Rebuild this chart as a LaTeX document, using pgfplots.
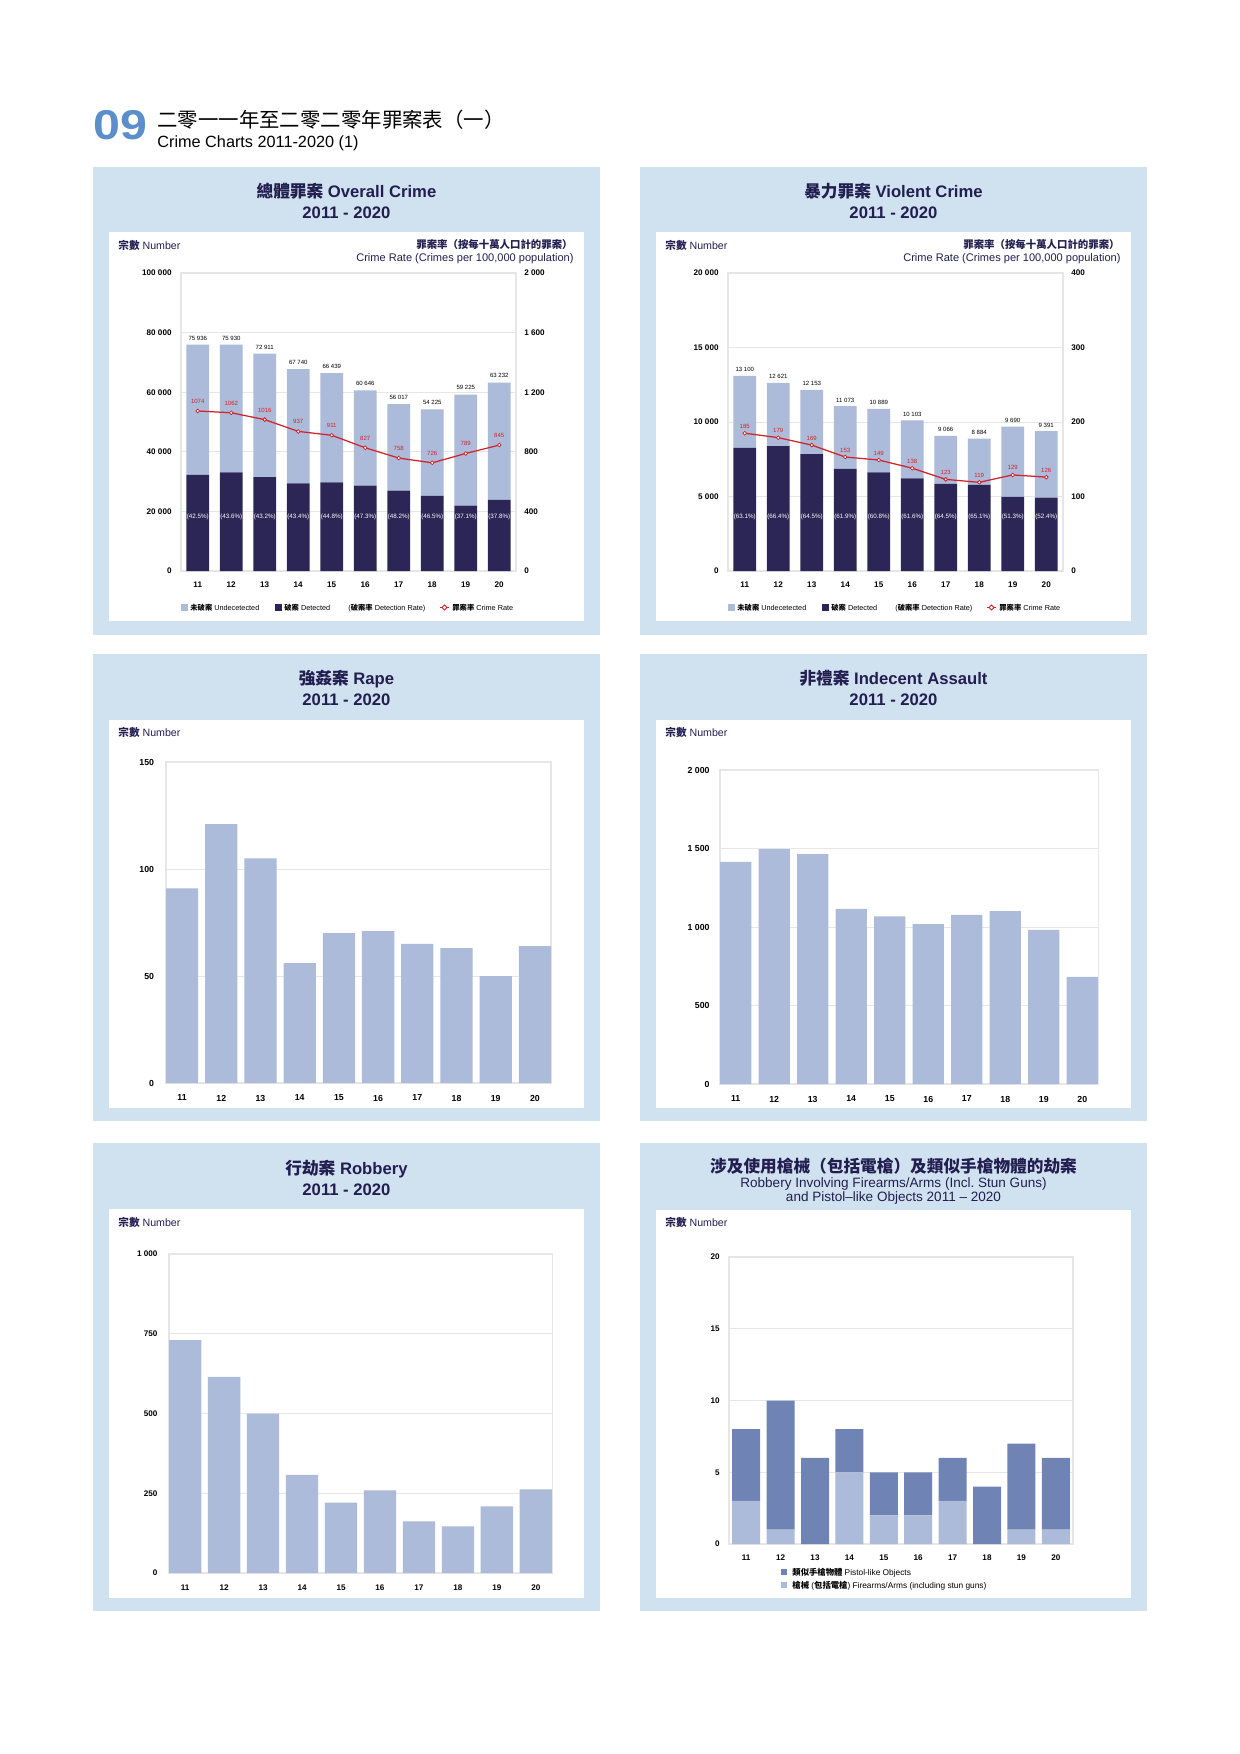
\documentclass[border=0pt]{standalone}
\usepackage{fontspec}
\setmainfont{Liberation Sans}
\newfontfamily\cjk{Noto Sans CJK TC}
\usepackage{graphicx}
\usepackage{pgfplots}
\pgfplotsset{compat=1.18}
\newcommand\fs[1]{\fontsize{#1}{#1}\selectfont}
\definecolor{panelbg}{HTML}{D0E1F0}
\definecolor{navy}{HTML}{221E50}
\definecolor{barlight}{HTML}{ABBBD9}
\definecolor{bardark}{HTML}{2C2657}
\definecolor{barmid}{HTML}{6F83B5}
\definecolor{ratered}{HTML}{D2232A}
\definecolor{headblue}{HTML}{5A8FCC}
\definecolor{gridc}{HTML}{E6E6E6}
\pgfplotsset{
  base/.style={scale only axis, anchor=south west,
    axis line style={draw=gridc, line width=0.5pt},
    ymajorgrids, major grid style={draw=gridc, line width=0.4pt},
    tick style={draw=none}, major tick length=0pt,
    scaled y ticks=false, scaled x ticks=false,
    xtick={0,1,2,3,4,5,6,7,8,9},
    xticklabels={11,12,13,14,15,16,17,18,19,20},
    tick label style={font=\fs{3.9}\bfseries, text=black},
    xticklabel style={yshift=-1.6pt},
    yticklabel style={xshift=-1pt},
    ymin=0},
  ovl/.style={scale only axis, anchor=south west, ymin=0,
    scaled y ticks=false,
    axis x line=none, axis y line*=right, axis line style={draw=none},
    tick style={draw=none}, major tick length=0pt,
    yticklabel style={font=\fs{3.9}\bfseries, text=black, xshift=0.5pt}},
  lblax/.style={scale only axis, anchor=south west, ymin=0, hide axis},
  totlab/.style={draw=none, mark=none, nodes near coords, point meta=explicit symbolic,
    nodes near coords style={font=\fs{2.9}, text=black, anchor=center, inner sep=0pt, yshift=#1}},
  detlab/.style={draw=none, mark=none, nodes near coords, point meta=explicit symbolic,
    nodes near coords style={font=\fs{3}, text=white, anchor=center, inner sep=0pt}},
  rateline/.style={ratered, line width=0.6pt, mark=*, mark size=0.9pt,
    mark options={fill=white, draw=ratered, line width=0.35pt},
    nodes near coords, point meta=explicit symbolic,
    nodes near coords style={font=\fs{2.9}, text=ratered, anchor=center, inner sep=0pt, yshift=#1}},
}
\begin{document}
\begin{tikzpicture}[x=0.48pt, y=0.48pt]
\path[use as bounding box, fill=white] (0,0) rectangle (1240,-1754);

% header
\node[anchor=base west, inner sep=0pt, text=headblue, font=\fs{20}\bfseries] at (93,-139) {\scalebox{1.16}[1]{09}};
\node[anchor=base west, inner sep=0pt, font=\fs{9.8}] at (157,-127.5) {\cjk 二零一一年至二零二零年罪案表（一）};
\node[anchor=base west, inner sep=0pt, font=\fs{7.8}] at (157,-147.4) {Crime Charts 2011-2020 (1)};

% panel backgrounds
\fill[panelbg] (93,-167) rectangle (600,-635);
\fill[white] (109,-232) rectangle (584,-621);
\fill[panelbg] (640,-167) rectangle (1147,-635);
\fill[white] (656,-232) rectangle (1131,-621);
\fill[panelbg] (93,-654) rectangle (600,-1121);
\fill[white] (109,-720) rectangle (584,-1108);
\fill[panelbg] (640,-654) rectangle (1147,-1121);
\fill[white] (656,-720) rectangle (1131,-1108);
\fill[panelbg] (93,-1143) rectangle (600,-1611);
\fill[white] (109,-1209) rectangle (584,-1598);
\fill[panelbg] (640,-1143) rectangle (1147,-1611);
\fill[white] (656,-1210) rectangle (1131,-1598);

% ---------- titles ----------
\node[anchor=base, inner sep=0pt, text=navy, font=\fs{8}\bfseries] at (346.5,-197.3) {{\cjk 總體罪案} Overall Crime};
\node[anchor=base, inner sep=0pt, text=navy, font=\fs{8}\bfseries] at (346.5,-218) {2011 - 2020};
\node[anchor=base, inner sep=0pt, text=navy, font=\fs{8}\bfseries] at (893.5,-197.3) {{\cjk 暴力罪案} Violent Crime};
\node[anchor=base, inner sep=0pt, text=navy, font=\fs{8}\bfseries] at (893.5,-218) {2011 - 2020};
\node[anchor=base, inner sep=0pt, text=navy, font=\fs{8}\bfseries] at (346.5,-684.7) {{\cjk 強姦案} Rape};
\node[anchor=base, inner sep=0pt, text=navy, font=\fs{8}\bfseries] at (346.5,-705) {2011 - 2020};
\node[anchor=base, inner sep=0pt, text=navy, font=\fs{8}\bfseries] at (893.5,-684.7) {{\cjk 非禮案} Indecent Assault};
\node[anchor=base, inner sep=0pt, text=navy, font=\fs{8}\bfseries] at (893.5,-705) {2011 - 2020};
\node[anchor=base, inner sep=0pt, text=navy, font=\fs{8}\bfseries] at (346.5,-1174.5) {{\cjk 行劫案} Robbery};
\node[anchor=base, inner sep=0pt, text=navy, font=\fs{8}\bfseries] at (346.5,-1195) {2011 - 2020};
\node[anchor=base, inner sep=0pt, text=navy, font=\fs{8}\bfseries] at (893.5,-1172.5) {\cjk 涉及使用槍械（包括電槍）及類似手槍物體的劫案};
\node[anchor=base, inner sep=0pt, text=navy, font=\fs{6.5}] at (893.5,-1187) {Robbery Involving Firearms/Arms (Incl.\ Stun Guns)};
\node[anchor=base, inner sep=0pt, text=navy, font=\fs{6.5}] at (893.5,-1201) {and Pistol–like Objects 2011 – 2020};

% y titles
\foreach \xx/\yy in {118/249, 665/249, 118/736, 665/736, 118/1226, 665/1226}{
  \node[anchor=base west, inner sep=0pt, text=navy, font=\fs{5.1}] at (\xx,-\yy) {{\cjk\bfseries 宗數} Number};
}
\foreach \xx in {0,547}{
  \node[anchor=base east, inner sep=0pt, text=navy, font=\fs{5}\bfseries] at (573+\xx,-248) {\cjk 罪案率（按每十萬人口計的罪案）};
  \node[anchor=base east, inner sep=0pt, text=navy, font=\fs{5.3}] at (574+\xx,-261) {Crime Rate (Crimes per 100,000 population)};
  % legends
  \fill[barlight] (181+\xx,-604) rectangle (188+\xx,-611);
  \node[anchor=base west, inner sep=0pt, font=\fs{3.5}] at (190+\xx,-610) {{\cjk\bfseries 未破案} Undecetected};
  \fill[bardark] (275+\xx,-604) rectangle (282+\xx,-611);
  \node[anchor=base west, inner sep=0pt, font=\fs{3.5}] at (284+\xx,-610) {{\cjk\bfseries 破案} Detected};
  \node[anchor=base west, inner sep=0pt, font=\fs{3.5}] at (348+\xx,-610) {({\cjk\bfseries 破案率} Detection Rate)};
  \draw[ratered, line width=0.6pt] (440+\xx,-607.5) -- (449+\xx,-607.5);
  \draw[ratered, fill=white, line width=0.4pt] (444.5+\xx,-605) -- (447+\xx,-607.5) -- (444.5+\xx,-610) -- (442+\xx,-607.5) -- cycle;
  \node[anchor=base west, inner sep=0pt, font=\fs{3.5}] at (452+\xx,-610) {{\cjk\bfseries 罪案率} Crime Rate};
}
% legend panel 6
\fill[barmid] (781,-1569) rectangle (787,-1575);
\node[anchor=base west, inner sep=0pt, font=\fs{4}] at (792,-1575) {{\cjk\bfseries 類似手槍物體} Pistol-like Objects};
\fill[barlight] (781,-1582) rectangle (787,-1588);
\node[anchor=base west, inner sep=0pt, font=\fs{4}] at (792,-1588) {{\cjk\bfseries 槍械} ({\cjk\bfseries 包括電槍}) Firearms/Arms (including stun guns)};

% ---------- Panel 1: Overall crime ----------
\begin{axis}[base, at={(181*0.48pt,-571*0.48pt)}, width=160.8pt, height=143.04pt,
  xmin=-0.5, xmax=9.5, ymax=100000,
  ytick={0,20000,40000,60000,80000,100000},
  yticklabels={0,20 000,40 000,60 000,80 000,100 000},
  ybar stacked, bar width=10.9pt]
\addplot[fill=bardark, draw=none] coordinates {(0,32273) (1,33105) (2,31498) (3,29399) (4,29765) (5,28686) (6,27000) (7,25215) (8,21973) (9,23902)};
\addplot[fill=barlight, draw=none] coordinates {(0,43663) (1,42825) (2,41413) (3,38341) (4,36674) (5,31960) (6,29017) (7,29010) (8,37252) (9,39330)};
\end{axis}
\begin{axis}[lblax, at={(181*0.48pt,-571*0.48pt)}, width=160.8pt, height=143.04pt,
  xmin=-0.5, xmax=9.5, ymax=100000]
\addplot[totlab=3.2pt] coordinates {(0,75936)[75 936] (1,75930)[75 930] (2,72911)[72 911] (3,67740)[67 740] (4,66439)[66 439] (5,60646)[60 646] (6,56017)[56 017] (7,54225)[54 225] (8,59225)[59 225] (9,63232)[63 232]};
\end{axis}
\begin{axis}[ovl, at={(181*0.48pt,-571*0.48pt)}, width=160.8pt, height=143.04pt,
  xmin=-0.5, xmax=9.5, ymax=2000,
  ytick={0,400,800,1200,1600,2000},
  yticklabels={0,400,800,1 200,1 600,2 000}]
\addplot[detlab] coordinates {(0,364)[(42.5\%)] (1,364)[(43.6\%)] (2,364)[(43.2\%)] (3,364)[(43.4\%)] (4,364)[(44.8\%)] (5,364)[(47.3\%)] (6,364)[(48.2\%)] (7,364)[(46.5\%)] (8,364)[(37.1\%)] (9,364)[(37.8\%)]};
\addplot[rateline=4.6pt] coordinates {(0,1074)[1074] (1,1062)[1062] (2,1016)[1016] (3,937)[937] (4,911)[911] (5,827)[827] (6,758)[758] (7,726)[726] (8,789)[789] (9,845)[845]};
\end{axis}

% ---------- Panel 2: Violent crime ----------
\begin{axis}[base, at={(728*0.48pt,-571*0.48pt)}, width=160.8pt, height=143.04pt,
  xmin=-0.5, xmax=9.5, ymax=20000,
  ytick={0,5000,10000,15000,20000},
  yticklabels={0,5 000,10 000,15 000,20 000},
  ybar stacked, bar width=10.9pt]
\addplot[fill=bardark, draw=none] coordinates {(0,8266) (1,8380) (2,7839) (3,6854) (4,6621) (5,6223) (6,5848) (7,5783) (8,4971) (9,4921)};
\addplot[fill=barlight, draw=none] coordinates {(0,4834) (1,4241) (2,4314) (3,4219) (4,4268) (5,3880) (6,3218) (7,3101) (8,4719) (9,4470)};
\end{axis}
\begin{axis}[lblax, at={(728*0.48pt,-571*0.48pt)}, width=160.8pt, height=143.04pt,
  xmin=-0.5, xmax=9.5, ymax=20000]
\addplot[totlab=2.9pt] coordinates {(0,13100)[13 100] (1,12621)[12 621] (2,12153)[12 153] (3,11073)[11 073] (4,10889)[10 889] (5,10103)[10 103] (6,9066)[9 066] (7,8884)[8 884] (8,9690)[9 690] (9,9391)[9 391]};
\end{axis}
\begin{axis}[ovl, at={(728*0.48pt,-571*0.48pt)}, width=160.8pt, height=143.04pt,
  xmin=-0.5, xmax=9.5, ymax=400,
  ytick={0,100,200,300,400},
  yticklabels={0,100,200,300,400}]
\addplot[detlab] coordinates {(0,72.9)[(63.1\%)] (1,72.9)[(66.4\%)] (2,72.9)[(64.5\%)] (3,72.9)[(61.9\%)] (4,72.9)[(60.8\%)] (5,72.9)[(61.6\%)] (6,72.9)[(64.5\%)] (7,72.9)[(65.1\%)] (8,72.9)[(51.3\%)] (9,72.9)[(52.4\%)]};
\addplot[rateline=3.4pt] coordinates {(0,185)[185] (1,179)[179] (2,169)[169] (3,153)[153] (4,149)[149] (5,138)[138] (6,123)[123] (7,119)[119] (8,129)[129] (9,126)[126]};
\end{axis}

% ---------- Panel 3: Rape ----------
\begin{axis}[base, at={(166*0.48pt,-1083*0.48pt)}, width=184.8pt, height=154.08pt,
  xmin=-0.41, xmax=9.41, ymax=150,
  ytick={0,50,100,150}, yticklabels={0,50,100,150},
  tick label style={font=\fs{4.2}\bfseries},
  xticklabel style={yshift=-0.6pt}, yticklabel style={xshift=-1.2pt},
  ybar, bar width=15.5pt, bar shift=0pt]
\addplot[fill=barlight, draw=none] coordinates {(0,91) (1,121) (2,105) (3,56) (4,70) (5,71) (6,65) (7,63) (8,50) (9,64)};
\end{axis}

% ---------- Panel 4: Indecent assault ----------
\begin{axis}[base, at={(720*0.48pt,-1084*0.48pt)}, width=181.44pt, height=150.72pt,
  xmin=-0.408, xmax=9.408, ymax=2000,
  ytick={0,500,1000,1500,2000}, yticklabels={0,500,1 000,1 500,2 000},
  tick label style={font=\fs{4.2}\bfseries},
  xticklabel style={yshift=-0.6pt}, yticklabel style={xshift=-0.5pt},
  ybar, bar width=15.0pt, bar shift=0pt]
\addplot[fill=barlight, draw=none] coordinates {(0,1415) (1,1496) (2,1464) (3,1116) (4,1067) (5,1018) (6,1078) (7,1101) (8,982) (9,682)};
\end{axis}

% ---------- Panel 5: Robbery ----------
\begin{axis}[base, at={(169*0.48pt,-1573*0.48pt)}, width=183.84pt, height=153.12pt,
  xmin=-0.415, xmax=9.415, ymax=1000,
  ytick={0,250,500,750,1000}, yticklabels={0,250,500,750,1 000},
  tick label style={font=\fs{3.9}\bfseries},
  xticklabel style={yshift=-0.6pt}, yticklabel style={xshift=-1pt},
  ybar, bar width=15.5pt, bar shift=0pt]
\addplot[fill=barlight, draw=none] coordinates {(0,730) (1,615) (2,500) (3,308) (4,221) (5,259) (6,162) (7,146) (8,209) (9,262)};
\end{axis}

% ---------- Panel 6: Robbery with firearms ----------
\begin{axis}[base, at={(729*0.48pt,-1544*0.48pt)}, width=165.12pt, height=137.76pt,
  xmin=-0.5, xmax=9.5, ymax=20,
  ytick={0,5,10,15,20}, yticklabels={0,5,10,15,20},
  ybar stacked, bar width=13.44pt]
\addplot[fill=barlight, draw=none] coordinates {(0,3) (1,1) (2,0) (3,5) (4,2) (5,2) (6,3) (7,0) (8,1) (9,1)};
\addplot[fill=barmid, draw=none] coordinates {(0,5) (1,9) (2,6) (3,3) (4,3) (5,3) (6,3) (7,4) (8,6) (9,5)};
\end{axis}
\end{tikzpicture}
\end{document}
